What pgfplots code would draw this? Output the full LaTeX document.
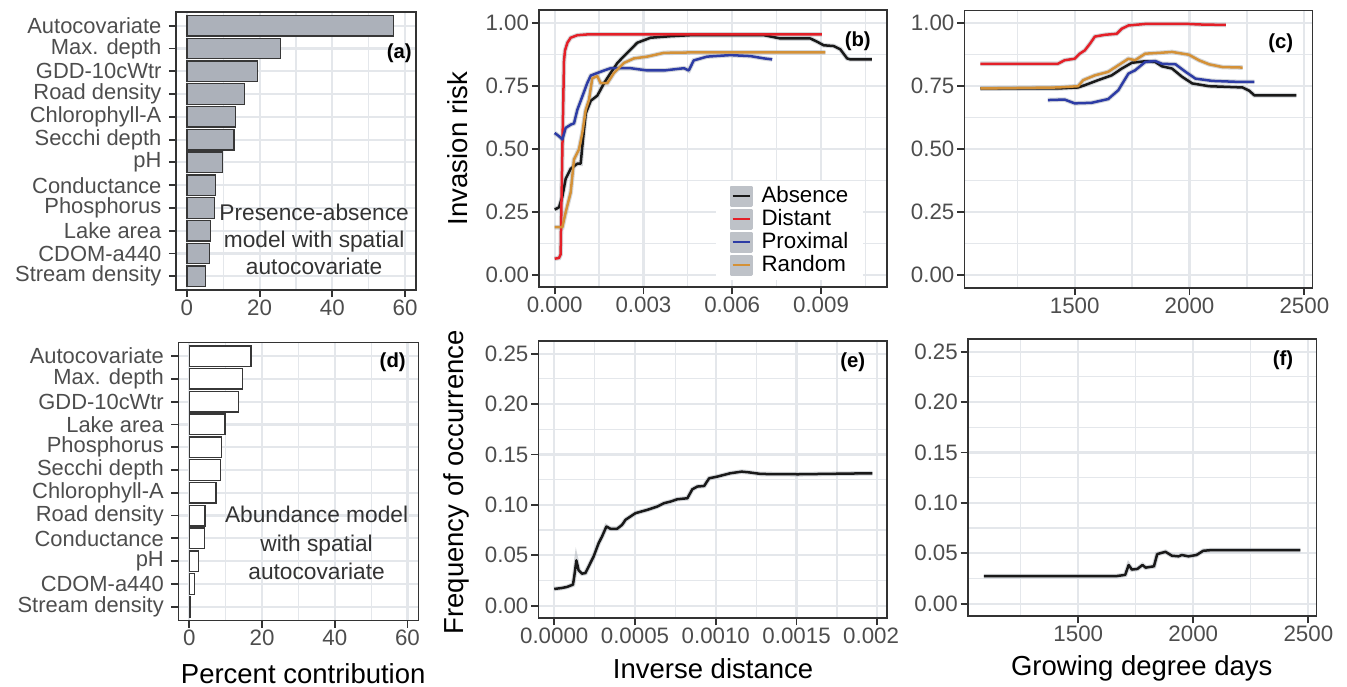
\documentclass[border=0pt]{standalone}
\usepackage{fontspec}
\setmainfont{Liberation Sans}
\usepackage{pgfplots}
\usepackage{pgfplotstable}
\pgfplotsset{compat=1.18}

\definecolor{gborder}{RGB}{51,51,51}
\definecolor{ggrid}{RGB}{228,231,235}
\definecolor{gtick}{RGB}{77,77,77}
\definecolor{barfill}{RGB}{172,177,186}
\definecolor{barline}{RGB}{55,55,55}
\definecolor{gkey}{RGB}{190,194,200}
\definecolor{ribbon}{RGB}{170,175,182}
\definecolor{cAbs}{RGB}{25,25,25}
\definecolor{cDist}{RGB}{228,32,40}
\definecolor{cProx}{RGB}{45,60,165}
\definecolor{cRand}{RGB}{212,145,55}

% partial dependence curves, inverse distance (b)
\pgfplotstableread{
x y
0 0.258
0.000146 0.267
0.000259 0.31
0.000371 0.38
0.00054 0.42
0.000765 0.44
0.000878 0.44
0.000934 0.51
0.00105 0.64
0.00122 0.69
0.00144 0.71
0.00167 0.76
0.00189 0.80
0.00212 0.84
0.00245 0.88
0.00279 0.92
0.00324 0.94
0.00392 0.946
0.00459 0.95
0.00707 0.95
0.00763 0.937
0.00864 0.937
0.00887 0.924
0.00909 0.91
0.00943 0.907
0.00965 0.894
0.00988 0.858
0.00999 0.854
0.01072 0.854
}\bAbs
\pgfplotstableread{
x y
0 0.063
0.000146 0.066
0.0002 0.08
0.00026 0.5
0.000315 0.85
0.00035 0.89
0.00043 0.92
0.00054 0.94
0.000765 0.95
0.0011 0.953
0.00903 0.953
}\bDist
\pgfplotstableread{
x y
0 0.562
0.000146 0.549
0.000259 0.536
0.000371 0.582
0.00054 0.595
0.000653 0.60
0.000765 0.654
0.000934 0.707
0.0011 0.76
0.00122 0.79
0.00144 0.80
0.00167 0.81
0.00189 0.819
0.00257 0.819
0.00313 0.81
0.00369 0.81
0.00437 0.819
0.00453 0.81
0.0047 0.85
0.00515 0.865
0.00594 0.871
0.00662 0.867
0.00707 0.858
0.00735 0.854
}\bProx
\pgfplotstableread{
x y
0 0.188
0.000259 0.188
0.000371 0.247
0.00054 0.326
0.000653 0.457
0.000821 0.497
0.000934 0.562
0.00105 0.654
0.00116 0.694
0.00127 0.779
0.00144 0.788
0.00155 0.76
0.00178 0.76
0.002 0.80
0.00234 0.84
0.00268 0.858
0.00313 0.865
0.00369 0.88
0.00482 0.882
0.00915 0.882
}\bRand

% growing degree days (c)
\pgfplotstableread{
x y
1090 0.741
1427 0.741
1515 0.745
1544 0.754
1602 0.774
1661 0.793
1705 0.82
1749 0.843
1807 0.849
1851 0.846
1880 0.829
1924 0.82
1968 0.787
2012 0.761
2085 0.75
2231 0.745
2260 0.732
2282 0.714
2465 0.714
}\cAbsT
\pgfplotstableread{
x y
1090 0.839
1427 0.839
1456 0.853
1500 0.859
1522 0.879
1544 0.892
1566 0.918
1588 0.947
1632 0.954
1683 0.958
1705 0.978
1734 0.991
1807 0.997
1997 0.997
2041 0.995
2158 0.993
}\cDistT
\pgfplotstableread{
x y
1383 0.695
1456 0.697
1500 0.682
1573 0.684
1646 0.699
1690 0.734
1734 0.80
1763 0.813
1807 0.846
1851 0.85
1880 0.839
1939 0.837
1983 0.807
2026 0.78
2099 0.771
2216 0.767
2282 0.767
}\cProxT
\pgfplotstableread{
x y
1090 0.741
1427 0.745
1515 0.75
1537 0.774
1588 0.793
1646 0.807
1690 0.833
1734 0.859
1763 0.853
1807 0.879
1880 0.883
1924 0.886
1997 0.875
2041 0.853
2085 0.837
2143 0.826
2231 0.824
}\cRandT

% abundance model (e), (f)
\pgfplotstableread{
x y
0 0.0165
0.0000476 0.0175
0.0000787 0.0185
0.000116 0.0208
0.000124 0.029
0.000137 0.0449
0.000151 0.035
0.000172 0.0317
0.000193 0.0323
0.000244 0.0488
0.000275 0.062
0.000296 0.0686
0.000323 0.0785
0.000348 0.0762
0.000389 0.0762
0.00042 0.0801
0.000441 0.0851
0.000472 0.0884
0.000503 0.0917
0.000576 0.095
0.000638 0.0983
0.000679 0.1016
0.00072 0.1032
0.000762 0.1055
0.000824 0.1065
0.000855 0.1154
0.000886 0.1181
0.000928 0.1187
0.000959 0.1263
0.00101 0.128
0.00109 0.1313
0.00116 0.1329
0.0012 0.1323
0.00128 0.1306
0.00151 0.1303
0.00197 0.1313
}\eTab
\pgfplotstableread{
x y
1090 0.0272
1664 0.0272
1704 0.0285
1719 0.0383
1733 0.0338
1757 0.0344
1779 0.0383
1793 0.0357
1829 0.037
1843 0.0491
1879 0.0514
1907 0.0475
1936 0.0469
1950 0.0482
1979 0.0469
2014 0.0482
2043 0.0524
2079 0.0531
2465 0.0531
}\fTab

\pgfplotsset{
  ggpanel/.style={
    scale only axis, anchor=north west,
    axis line style={draw=gborder, line width=0.75bp},
    tick style={draw=gborder, line width=0.9bp},
    tick align=outside, tick pos=left,
    major tick length=3.6bp, minor tick length=0pt,
    xmajorgrids, ymajorgrids, xminorgrids, yminorgrids,
    major grid style={draw=ggrid, line width=1.1bp},
    minor grid style={draw=ggrid, line width=0.6bp},
    tick label style={font=\fontsize{11.2}{13}\selectfont, text=gtick, inner sep=1.2bp},
    label style={font=\fontsize{13.8}{16}\selectfont, text=black},
    scaled ticks=false,
  },
  barpanel/.style={
    ggpanel, xbar, bar width=0.9,
    xmin=-3, xmax=63, ymin=0.4, ymax=12.6,
    xtick={0,20,40,60}, xticklabels={0,20,40,60},
    minor xtick={10,30,50},
    ytick={1,...,12},
    yticklabel style={font=\fontsize{11}{13}\selectfont, inner xsep=3.5bp},
    width=120bp, height=139bp,
  },
  riskpanel/.style={
    ggpanel, ymin=-0.05, ymax=1.05,
    ytick={0,0.25,0.5,0.75,1}, yticklabels={0.00,0.25,0.50,0.75,1.00},
    minor ytick={0.125,0.375,0.625,0.875},
    width=174bp, height=138.6bp,
  },
  freqpanel/.style={
    ggpanel, ymin=-0.0125, ymax=0.2625,
    ytick={0,0.05,0.1,0.15,0.2,0.25},
    yticklabels={0.00,0.05,0.10,0.15,0.20,0.25},
    minor ytick={0.025,0.075,0.125,0.175,0.225},
    width=174.3bp, height=138.6bp,
  },
  gddx/.style={
    xmin=1020, xmax=2535,
    xtick={1500,2000,2500}, xticklabels={1500,2000,2500},
    minor xtick={1250,1750,2250},
  },
  rib/.style={draw=ribbon, line width=2.3bp, opacity=0.5, forget plot},
  crv/.style={line width=1.25bp, line join=round},
}
\newcommand{\panlab}{\fontsize{10.2}{12}\selectfont\bfseries}
\newcommand{\annot}{\fontsize{11.4}{13.4}\selectfont}
\newcommand{\annotd}{\fontsize{11.4}{14.2}\selectfont}

\begin{document}
\begin{tikzpicture}
\path[use as bounding box] (0,0) rectangle (673.5bp,-343.5bp);

% (a) presence-absence variable importance
\begin{axis}[barpanel, at={(88bp,-6bp)},
  yticklabels={Stream density,CDOM-a440,Lake area,Phosphorus,Conductance,pH,Secchi depth,Chlorophyll-A,Road density,GDD-10cWtr,Max. depth,Autocovariate}]
\addplot[fill=barfill, draw=barline, line width=0.7bp] coordinates {
 (5.1,1) (6.2,2) (6.5,3) (7.6,4) (7.8,5) (9.8,6) (13.0,7) (13.3,8) (15.8,9) (19.4,10) (25.8,11) (56.8,12)};
\node[align=center, font=\annot, text=gborder] at (axis cs:35,2.63) {Presence-absence\\model with spatial\\autocovariate};
\node[font=\panlab] at (rel axis cs:0.93,0.851) {(a)};
\end{axis}

% (d) abundance variable importance
\begin{axis}[barpanel, at={(89.2bp,-171.2bp)},
  yticklabels={Stream density,CDOM-a440,pH,Conductance,Road density,Chlorophyll-A,Secchi depth,Phosphorus,Lake area,GDD-10cWtr,Max. depth,Autocovariate},
  xlabel={Percent contribution},
  xlabel style={at={(axis description cs:0.52,-0.228)}, anchor=base}]
\addplot[fill=white, draw=barline, line width=0.7bp] coordinates {
 (0.15,1) (1.4,2) (2.6,3) (4.1,4) (4.3,5) (7.3,6) (8.6,7) (8.8,8) (9.8,9) (13.6,10) (14.7,11) (17.0,12)};
\node[align=center, font=\annotd, text=gborder] at (axis cs:35,3.8) {Abundance model\\with spatial\\autocovariate};
\node[font=\panlab] at (rel axis cs:0.893,0.93) {(d)};
\end{axis}

% (b) invasion risk vs inverse distance
\begin{axis}[riskpanel, at={(269.5bp,-5bp)},
  xmin=-0.00053, xmax=0.01123,
  xtick={0,0.003,0.006,0.009}, xticklabels={0.000,0.003,0.006,0.009},
  minor xtick={0.0015,0.0045,0.0075,0.0105},
  ylabel={Invasion risk},
  ylabel style={at={(axis description cs:-0.233,0.5)}, anchor=center},
  legend style={at={(0.507,0.384)}, anchor=north west, draw=none, fill=white,
    font=\fontsize{11.2}{13}\selectfont, inner xsep=7bp, inner ysep=1.8bp,
    row sep=0pt, column sep=3.8bp, cells={anchor=west},
    nodes={inner sep=0.5bp, text height=8.2bp, text depth=2.3bp}},
  legend image code/.code={\fill[gkey] (0bp,-4.7bp) rectangle (10.3bp,4.7bp);
    \draw[#1, line width=1.2bp] (0.8bp,0bp) -- (9.5bp,0bp);}]
\addplot[rib] table {\bAbs};
\addplot[rib] table {\bDist};
\addplot[rib] table {\bProx};
\addplot[rib] table {\bRand};
\addplot[crv, cAbs] table {\bAbs};
\addplot[crv, cDist] table {\bDist};
\addplot[crv, cProx] table {\bProx};
\addplot[crv, cRand] table {\bRand};
\legend{Absence,Distant,Proximal,Random}
\node[font=\panlab] at (rel axis cs:0.916,0.886) {(b)};
\end{axis}

% (c) invasion risk vs growing degree days
\begin{axis}[riskpanel, gddx, at={(482.2bp,-5.3bp)}]
\addplot[rib] table {\cAbsT};
\addplot[rib] table {\cDistT};
\addplot[rib] table {\cProxT};
\addplot[rib] table {\cRandT};
\addplot[crv, cAbs] table {\cAbsT};
\addplot[crv, cDist] table {\cDistT};
\addplot[crv, cProx] table {\cProxT};
\addplot[crv, cRand] table {\cRandT};
\node[font=\panlab] at (rel axis cs:0.909,0.882) {(c)};
\end{axis}

% (e) frequency of occurrence vs inverse distance
\begin{axis}[freqpanel, at={(269.2bp,-170.5bp)},
  xmin=-0.000098, xmax=0.00206,
  xtick={0,0.0005,0.001,0.0015,0.002},
  xticklabels={0.0000,0.0005,0.0010,0.0015,0.002\phantom{0}},
  minor xtick={0.00025,0.00075,0.00125,0.00175},
  xlabel={Inverse distance},
  xlabel style={at={(axis description cs:0.501,-0.216)}, anchor=base},
  ylabel={Frequency of occurrence},
  ylabel style={at={(axis description cs:-0.234,0.49)}, anchor=center}]
\addplot[rib] table {\eTab};
\addplot[crv, cAbs] table {\eTab};
\node[font=\panlab] at (rel axis cs:0.902,0.925) {(e)};
\end{axis}

% (f) frequency of occurrence vs growing degree days
\begin{axis}[freqpanel, gddx, at={(483.9bp,-169.5bp)},
  xlabel={Growing degree days},
  xlabel style={at={(axis description cs:0.499,-0.213)}, anchor=base}]
\addplot[rib] table {\fTab};
\addplot[crv, cAbs] table {\fTab};
\node[font=\panlab] at (rel axis cs:0.904,0.922) {(f)};
\end{axis}
\end{tikzpicture}
\end{document}
